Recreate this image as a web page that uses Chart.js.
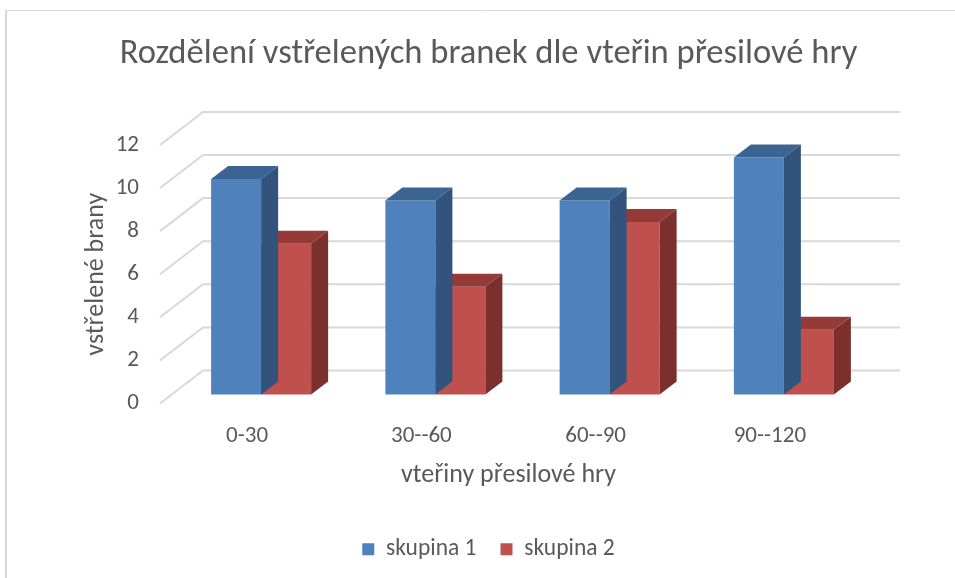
<!DOCTYPE html>
<html>
<head>
<meta charset="utf-8">
<script src="https://cdn.jsdelivr.net/npm/chart.js@4"></script>
<style>
  html, body { margin: 0; padding: 0; background: #ffffff; }
  #wrap { width: 955px; height: 578px; }
</style>
</head>
<body>
<div id="wrap"><canvas id="c" width="955" height="578"></canvas></div>
<script>
const categories = ['0-30', '30--60', '60--90', '90--120'];
const skupina1 = [10, 9, 9, 11];
const skupina2 = [7, 5, 8, 3];
const yTicks = [0, 2, 4, 6, 8, 10, 12];
const seriesNames = ['skupina 1', 'skupina 2'];
const chartTitle = 'Rozdělení vstřelených branek dle vteřin přesilové hry';
const yTitle = 'vstřelené brany';
const xTitle = 'vteřiny přesilové hry';

const FONT = 'Carlito, Lato, "Open Sans", sans-serif';
const TXT = '#595959';
const GRID = '#d9d9d9';
// 3D geometry
const WALL = { dx: 43, dy: -33 };     // depth of the floor / back wall
const BAR_SHIFT = { dx: 14, dy: -9 }; // front face position of bars
const BAR_DEPTH = { dx: 17, dy: -13 };
const faces = [
  { front: '#4f81bd', top: '#3c6492', side: '#32547c' },
  { front: '#c0504d', top: '#943b38', side: '#7c302e' }
];

const threeD = {
  id: 'threeD',
  beforeDraw(chart) {
    const ctx = chart.ctx;
    ctx.save();
    ctx.fillStyle = '#ffffff';
    ctx.fillRect(0, 0, chart.width, chart.height);
    ctx.strokeStyle = GRID;
    ctx.lineWidth = 1;
    ctx.beginPath();
    ctx.moveTo(6, 10.5); ctx.lineTo(chart.width, 10.5);
    ctx.stroke();
    ctx.lineWidth = 2;
    ctx.beginPath();
    ctx.moveTo(6, 10); ctx.lineTo(6, chart.height);
    ctx.stroke();
    ctx.restore();
  },
  beforeDatasetsDraw(chart) {
    const ctx = chart.ctx;
    const y = chart.scales.y;
    const area = chart.chartArea;
    ctx.save();
    ctx.strokeStyle = GRID;
    ctx.lineWidth = 2;
    yTicks.forEach(v => {
      const py = y.getPixelForValue(v);
      ctx.beginPath();
      ctx.moveTo(area.left, py);
      ctx.lineTo(area.left + WALL.dx, py + WALL.dy);
      ctx.lineTo(area.right + WALL.dx, py + WALL.dy);
      ctx.stroke();
    });
    ctx.restore();
  },
  beforeDatasetDraw(chart, args) {
    chart.ctx.save();
    chart.ctx.translate(BAR_SHIFT.dx, BAR_SHIFT.dy);
  },
  afterDatasetDraw(chart, args) {
    const ctx = chart.ctx;
    const col = faces[args.index];
    args.meta.data.forEach(bar => {
      const p = bar.getProps(['x', 'y', 'base', 'width'], true);
      const x1 = p.x - p.width / 2, x2 = p.x + p.width / 2;
      const top = p.y, base = p.base;
      const dx = BAR_DEPTH.dx, dy = BAR_DEPTH.dy;
      ctx.fillStyle = col.top;
      ctx.beginPath();
      ctx.moveTo(x1, top);
      ctx.lineTo(x2, top);
      ctx.lineTo(x2 + dx, top + dy);
      ctx.lineTo(x1 + dx, top + dy);
      ctx.closePath();
      ctx.fill();
      ctx.fillStyle = col.side;
      ctx.beginPath();
      ctx.moveTo(x2, top);
      ctx.lineTo(x2 + dx, top + dy);
      ctx.lineTo(x2 + dx, base + dy);
      ctx.lineTo(x2, base);
      ctx.closePath();
      ctx.fill();
    });
    ctx.restore();
  }
};

const PAD_LEFT = 22;

new Chart(document.getElementById('c'), {
  type: 'bar',
  data: {
    labels: categories,
    datasets: [
      { label: seriesNames[0], data: skupina1, backgroundColor: faces[0].front, borderWidth: 0, clip: false },
      { label: seriesNames[1], data: skupina2, backgroundColor: faces[1].front, borderWidth: 0, clip: false }
    ]
  },
  options: {
    responsive: false,
    devicePixelRatio: 1,
    animation: false,
    layout: { padding: { left: PAD_LEFT, right: 0, top: 0, bottom: 7 } },
    datasets: { bar: { categoryPercentage: 0.574, barPercentage: 1 } },
    scales: {
      x: {
        grid: { display: false, drawTicks: false },
        border: { display: false },
        ticks: { color: TXT, font: { family: FONT, size: 23 }, padding: 19 },
        title: { display: true, text: xTitle, color: TXT, font: { family: FONT, size: 26 }, padding: { top: 0, bottom: 22 } },
        afterFit(s) { s.height = 110; }
      },
      y: {
        min: 0, max: 12,
        grid: { display: false, drawTicks: false },
        border: { display: false },
        afterBuildTicks(s) { s.ticks = yTicks.map(v => ({ value: v })); },
        ticks: { color: TXT, font: { family: FONT, size: 23 }, padding: 21 },
        title: { display: true, text: yTitle, color: TXT, font: { family: FONT, size: 26 }, padding: { top: 96 - PAD_LEFT - 15.6, bottom: 0 } },
        afterFit(s) { s.width = 160 - PAD_LEFT; }
      },
      yRight: {
        position: 'right',
        display: true,
        grid: { display: false, drawTicks: false },
        border: { display: false },
        ticks: { display: false },
        afterFit(s) { s.width = 98; }
      }
    },
    plugins: {
      title: {
        display: true, text: chartTitle, color: TXT,
        font: { family: FONT, size: 34.6, weight: 'normal' },
        padding: { top: 33.2, bottom: 70.2 }
      },
      legend: {
        position: 'bottom',
        labels: { color: TXT, font: { family: FONT, size: 23.5 }, boxWidth: 12, boxHeight: 12, padding: 24 }
      },
      tooltip: { enabled: false }
    }
  },
  plugins: [threeD]
});
</script>
</body>
</html>
